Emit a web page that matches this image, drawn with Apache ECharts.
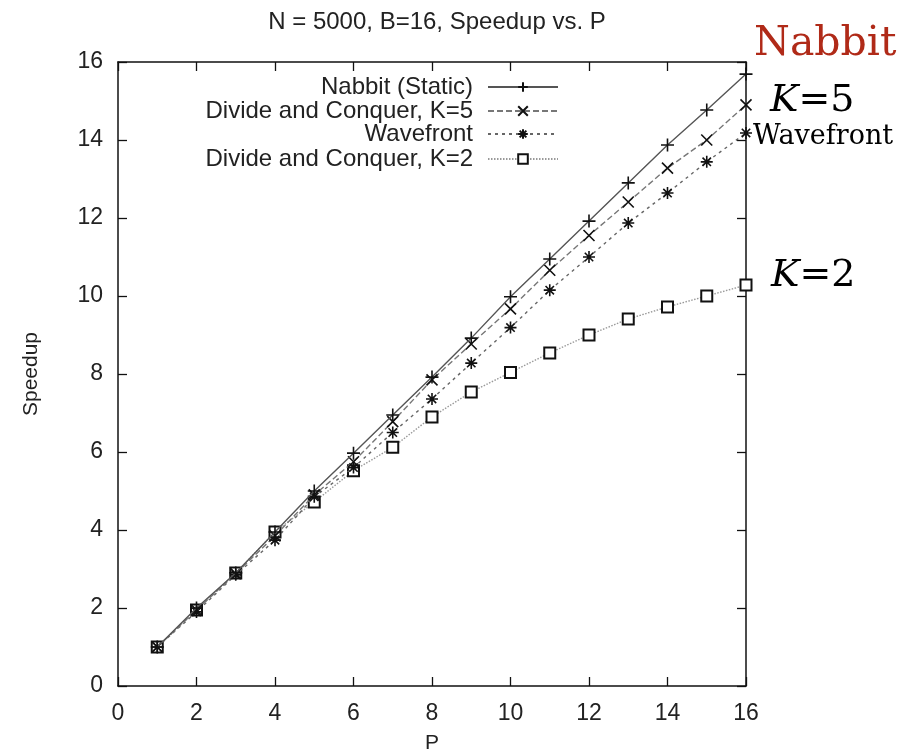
<!DOCTYPE html>
<html>
<head>
<meta charset="utf-8">
<script src="https://cdn.jsdelivr.net/npm/echarts@6/dist/echarts.min.js"></script>
<style>
  html, body { margin: 0; padding: 0; background: #fff; }
  #chart { width: 918px; height: 755px; }
</style>
</head>
<body>
<div id="chart"></div>
<script>
// processors P
var procs = [1, 2, 3, 4, 5, 6, 7, 8, 9, 10, 11, 12, 13, 14, 15, 16];
// speedup per series
var nabbit = [1, 2, 2.9, 3.95, 5.0, 5.97, 6.95, 7.92, 8.92, 9.98, 10.95, 11.92, 12.9, 13.87, 14.77, 15.69];
var dac5 = [1, 1.95, 2.88, 3.85, 4.9, 5.75, 6.78, 7.85, 8.77, 9.67, 10.66, 11.55, 12.41, 13.28, 14.0, 14.9];
var wave = [1, 1.9, 2.85, 3.74, 4.85, 5.6, 6.5, 7.36, 8.28, 9.19, 10.15, 11.0, 11.87, 12.64, 13.44, 14.18];
var dac2 = [1, 1.95, 2.9, 3.95, 4.72, 5.52, 6.12, 6.9, 7.54, 8.04, 8.54, 9.0, 9.41, 9.72, 10.0, 10.28];
var seriesNames = ['Nabbit (Static)', 'Divide and Conquer, K=5', 'Wavefront', 'Divide and Conquer, K=2'];

var sans = 'Liberation Sans';
var serif = 'DejaVu Serif';

var plusPath = 'path://M5,0 L5,10 M0,5 L10,5';
var crossPath = 'path://M0,0 L10,10 M10,0 L0,10';
var starPath = 'path://M5,0 L5,10 M0,5 L10,5 M1.5,1.5 L8.5,8.5 M8.5,1.5 L1.5,8.5';

var pairs = function (ys) {
  var out = [];
  for (var i = 0; i < procs.length; i++) {
    out.push([procs[i], ys[i]]);
  }
  return out;
};

var makeSeries = function (name, ys, symbol, size, lineColor, lineType, z) {
  return {
    name: name,
    type: 'line',
    data: pairs(ys),
    symbol: symbol,
    symbolSize: size,
    showAllSymbol: true,
    z: z,
    lineStyle: { color: lineColor, width: 1.4, type: lineType },
    itemStyle: { color: '#111', borderColor: '#111', borderWidth: 1.6 },
    emphasis: { disabled: true },
    animation: false
  };
};

var legendTops = [70, 94, 117, 142];
var legends = [];
for (var i = 0; i < seriesNames.length; i++) {
  legends.push({
    data: [seriesNames[i]],
    orient: 'vertical',
    align: 'right',
    right: 354,
    top: legendTops[i],
    itemWidth: 70,
    itemHeight: 12,
    selectedMode: false,
    textStyle: { fontFamily: sans, fontSize: 24, color: '#222', padding: [0, 10, 0, 0] }
  });
}

var axisLine = { show: true, onZero: false, lineStyle: { color: '#111', width: 1.5 } };
var tick = { show: true, inside: true, length: 9, lineStyle: { color: '#111', width: 1.3 } };
var label = { fontFamily: sans, fontSize: 23, color: '#222' };

var chart = echarts.init(document.getElementById('chart'));
chart.setOption({
  backgroundColor: '#fff',
  animation: false,
  title: {
    text: 'N = 5000, B=16, Speedup vs. P',
    left: 432,
    textAlign: 'center',
    top: 5,
    textStyle: { fontFamily: sans, fontSize: 24, fontWeight: 'normal', color: '#222' }
  },
  legend: legends,
  grid: { left: 118, right: 172, top: 62, bottom: 69, outerBoundsMode: 'none' },
  xAxis: [{
    type: 'value', min: 0, max: 16, interval: 2,
    name: 'P', nameLocation: 'middle', nameGap: 47,
    nameTextStyle: { fontFamily: sans, fontSize: 21, color: '#222' },
    axisLine: axisLine, axisTick: tick, splitLine: { show: false },
    axisLabel: Object.assign({ margin: 16 }, label)
  }, {
    type: 'value', min: 0, max: 16, interval: 2, position: 'top',
    axisLine: axisLine, axisTick: tick, splitLine: { show: false },
    axisLabel: { show: false }
  }],
  yAxis: [{
    type: 'value', min: 0, max: 16, interval: 2,
    name: 'Speedup', nameLocation: 'middle', nameGap: 76, nameRotate: 90,
    nameTextStyle: { fontFamily: sans, fontSize: 21, color: '#222' },
    axisLine: axisLine, axisTick: tick, splitLine: { show: false },
    axisLabel: Object.assign({ margin: 15 }, label)
  }, {
    type: 'value', min: 0, max: 16, interval: 2, position: 'right',
    axisLine: axisLine, axisTick: tick, splitLine: { show: false },
    axisLabel: { show: false }
  }],
  series: [
    makeSeries(seriesNames[0], nabbit, plusPath, 13, '#555', 'solid', 5),
    makeSeries(seriesNames[1], dac5, crossPath, 11, '#777', [6, 3], 4),
    makeSeries(seriesNames[2], wave, starPath, 12, '#666', [3, 4], 3),
    makeSeries(seriesNames[3], dac2, 'emptyRect', 11, '#999', [1.5, 1.5], 2)
  ],
  graphic: [
    { type: 'text', left: 754, top: 24, style: { text: 'Nabbit', fontFamily: serif, fontSize: 41, fill: '#b02a18' } },
    { type: 'text', left: 770, top: 82, style: {
      text: '{k|K}=5', fontFamily: serif, fontSize: 38, fill: '#000',
      rich: { k: { fontStyle: 'italic', fontFamily: serif, fontSize: 38 } } } },
    { type: 'text', left: 753, top: 123, style: { text: 'Wavefront', fontFamily: serif, fontSize: 27, fill: '#000' } },
    { type: 'text', left: 771, top: 257, style: {
      text: '{k|K}=2', fontFamily: serif, fontSize: 38, fill: '#000',
      rich: { k: { fontStyle: 'italic', fontFamily: serif, fontSize: 38 } } } }
  ]
});
</script>
</body>
</html>
